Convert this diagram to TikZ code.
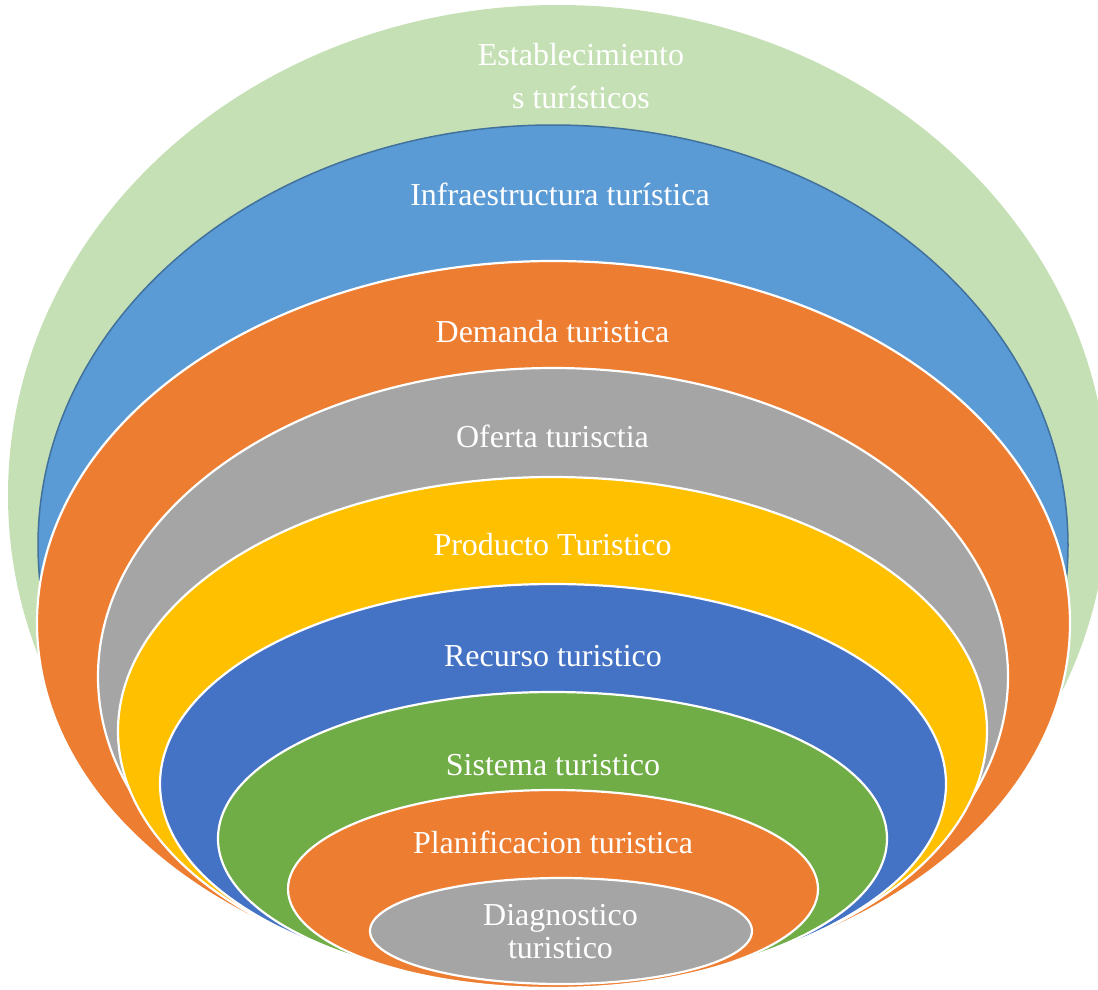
\documentclass[tikz,border=0pt]{standalone}
\usepackage{fontspec}
\setmainfont{Liberation Serif}
\definecolor{cmint}{HTML}{C5E0B4}
\definecolor{csky}{HTML}{5B9BD5}
\definecolor{cskyline}{HTML}{41719C}
\definecolor{corange}{HTML}{ED7D31}
\definecolor{cgray}{HTML}{A5A5A5}
\definecolor{cgold}{HTML}{FFC000}
\definecolor{cblue}{HTML}{4472C4}
\definecolor{cgreen}{HTML}{70AD47}
\tikzset{rings/.style={x=1pt,y=-1pt},
  ring/.style={draw=white,line width=2.2pt},
  lbl/.style={text=white,anchor=base,inner sep=0pt,align=center,font=\fontsize{32}{43}\selectfont}}

\begin{document}
\begin{tikzpicture}[rings]
    \useasboundingbox (0,0) rectangle (1098,989);
    \fill[cmint] (558,495) ellipse [x radius=550pt, y radius=490pt];
    \filldraw[fill=csky,draw=cskyline,line width=1.5pt] (553,545) ellipse [x radius=515pt, y radius=420pt];
    \filldraw[ring,fill=corange] (553.5,623) ellipse [x radius=516.5pt, y radius=362pt];
    \filldraw[ring,fill=cgray]   (553,676.5) ellipse [x radius=455pt, y radius=308.5pt];
    \filldraw[ring,fill=cgold]   (552.5,731) ellipse [x radius=434.5pt, y radius=254pt];
    \filldraw[ring,fill=cblue]   (553,784) ellipse [x radius=393pt, y radius=200pt];
    \filldraw[ring,fill=cgreen]  (552.5,838.5) ellipse [x radius=334.5pt, y radius=146.5pt];
    \filldraw[ring,fill=corange] (553,889) ellipse [x radius=265pt, y radius=99pt];
    \filldraw[ring,fill=cgray]   (561,931) ellipse [x radius=191pt, y radius=53pt];
    % multi-line labels sit on their last baseline
    \node[lbl] (estab)  at (581,108) {Establecimiento\\s turísticos};
    \node[lbl] (infra)  at (560,205) {Infraestructura turística};
    \node[lbl] (demand) at (552.5,342) {Demanda turistica};
    \node[lbl] (offer)  at (552.5,447) {Oferta turisctia};
    \node[lbl] (product) at (552.5,555) {Producto Turistico};
    \node[lbl] (resource) at (553,666) {Recurso turistico};
    \node[lbl] (system) at (553,775) {Sistema turistico};
    \node[lbl] (plan)   at (553,853) {Planificacion turistica};
    \node[lbl,font=\fontsize{32}{33}\selectfont] (diag) at (560.5,958) {Diagnostico\\turistico};
  \end{tikzpicture}
\end{document}
